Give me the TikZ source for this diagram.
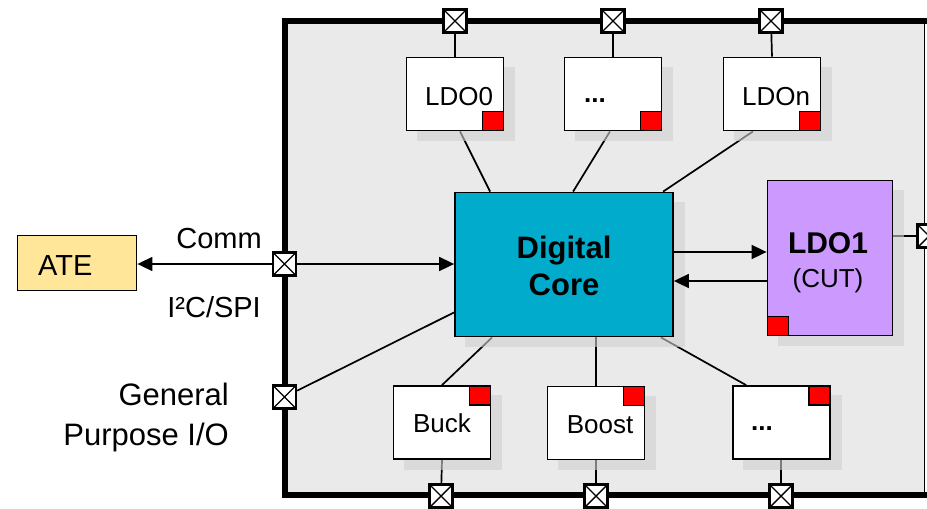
\documentclass[tikz,border=0pt]{standalone}
\usepackage{fontspec}
\setmainfont{Liberation Sans}
\usetikzlibrary{arrows.meta}

\definecolor{chipbg}{HTML}{EAEAEA}
\definecolor{corefill}{HTML}{00ABCB}
\definecolor{cutfill}{HTML}{CC99FF}
\definecolor{atefill}{HTML}{FFE699}
\definecolor{shade}{HTML}{D0D0D0}

\pgfdeclarelayer{chiplayer}
\pgfdeclarelayer{wirelayer}
\pgfdeclarelayer{shadelayer}
\pgfsetlayers{chiplayer,wirelayer,shadelayer,main}

\tikzset{
  fsz/.style={font=\fontsize{#1}{#1}\selectfont},
  bfsz/.style={font=\fontsize{#1}{#1}\selectfont\bfseries},
  txt/.style={inner sep=0pt, anchor=base},
  pad/.style={draw, line width=2.4pt, fill=white, minimum size=23pt, inner sep=0pt,
    path picture={\draw[line width=1.4pt]
      (path picture bounding box.south west) -- (path picture bounding box.north east)
      (path picture bounding box.north west) -- (path picture bounding box.south east);}},
  block/.style={draw, line width=1.8pt, fill=white, minimum width=97pt, minimum height=73pt, inner sep=0pt},
  flag/.style={draw, line width=1.5pt, fill=red, minimum width=21pt, minimum height=19pt, inner sep=0pt},
  wire/.style={line width=1.7pt},
  arr/.style={wire, -{Triangle[length=15pt,width=14pt]}},
  shadowbox/.style={fill=shade, fill opacity=0.6},
}

\begin{document}
\begin{tikzpicture}[x=1pt, y=-1pt]
\useasboundingbox (0,0) rectangle (927,509);

% chip outline
\begin{pgfonlayer}{chiplayer}
  \clip (0,0) rectangle (927,509);
  \fill[chipbg] (284,21) rectangle (924,495);
  \draw[line width=1pt] (924,21) -- (924,495);
  \draw[line width=6pt, line join=miter] (940,21) -- (284.5,21) -- (284.5,495) -- (940,495);
\end{pgfonlayer}

% functional blocks
\node[draw, line width=1.8pt, fill=corefill, minimum width=218pt, minimum height=144pt, inner sep=0pt] (core) at (564,264.5) {};
\node[draw, line width=1.8pt, fill=cutfill, minimum width=125pt, minimum height=155pt, inner sep=0pt] (ldo1) at (830,258) {};
\node[draw, line width=1.8pt, fill=atefill, minimum width=119pt, minimum height=55pt, inner sep=0pt] (ate) at (77,263) {};

\node[block] (ldo0)  at (455,94) {};
\node[block] (dots1) at (613,94) {};
\node[block] (ldon)  at (772,94) {};
\node[block] (buck)  at (442,422.5) {};
\node[block] (boost) at (596,423) {};
\node[block] (dots2) at (781.5,422.5) {};

% trim flags
\node[flag, anchor=south east] (f0) at (ldo0.south east) {};
\node[flag, anchor=south east] (f1) at (dots1.south east) {};
\node[flag, anchor=south east] (f2) at (ldon.south east) {};
\node[flag, anchor=north east] (f3) at (buck.north east) {};
\node[flag, anchor=north east] (f4) at (boost.north east) {};
\node[flag, anchor=north east] (f5) at (dots2.north east) {};
\node[flag, anchor=south west] (f6) at (ldo1.south west) {};

% pads
\node[pad] (pt1) at (455,21) {};
\node[pad] (pt2) at (613,21) {};
\node[pad] (pt3) at (771,21) {};
\node[pad] (pl1) at (284.5,264) {};
\node[pad] (pl2) at (284.5,397) {};
\node[pad] (pb1) at (441,496) {};
\node[pad] (pb2) at (596,496) {};
\node[pad] (pb3) at (781,496) {};
\node[pad] (pr)  at (929,236) {};

% labels
\node[txt, anchor=base west, fsz=29] (atetxt) at (38,275) {ATE};
\node[txt, anchor=base east, fsz=29] (commtxt) at (262,248) {Comm};
\node[txt, anchor=base east, fsz=29] (bustxt) at (261,317) {I²C/SPI};
\node[txt, anchor=base east, fsz=31] (gp1) at (229,405) {General};
\node[txt, anchor=base east, fsz=31] (gp2) at (229,445) {Purpose I/O};
\node[txt, bfsz=31] (dig1) at (564,258) {Digital};
\node[txt, bfsz=31] (dig2) at (564,295) {Core};
\node[txt, bfsz=30] (cut1) at (828,253) {LDO1};
\node[txt, fsz=26] (cut2) at (828,287) {(CUT)};
\node[txt, fsz=26] (t0) at (459,105) {LDO0};
\node[txt, bfsz=26] (t1) at (595,102) {...};
\node[txt, fsz=26] (t2) at (776,105) {LDOn};
\node[txt, fsz=26] (t3) at (442,432) {Buck};
\node[txt, fsz=26] (t4) at (600,433) {Boost};
\node[txt, bfsz=26] (t5) at (762,430) {...};

% connections running beneath the drop shadows
\begin{pgfonlayer}{wirelayer}
  \draw[wire] (pt1) -- (ldo0.north);
  \draw[wire] (pt2) -- (dots1.north);
  \draw[wire] (pt3) -- (ldon.north);
  \draw[wire] (buck.south) -- (pb1);
  \draw[wire] (boost.south) -- (pb2);
  \draw[wire] (dots2.south -| pb3) -- (pb3);
  \draw[wire] ([xshift=5pt]ldo0.south) -- ([xshift=36pt]core.north west);
  \draw[wire] ([xshift=-3pt]dots1.south) -- ([xshift=119pt]core.north west);
  \draw[wire] ([xshift=-19pt]ldon.south) -- ([xshift=209pt]core.north west);
  \draw[wire] ([xshift=38pt]core.south west) -- (buck.north);
  \draw[wire] (boost.north |- core.south) -- (boost.north);
  \draw[wire] ([xshift=-13pt]core.south east) -- ([xshift=14pt]dots2.north west);
  \draw[wire] (pl2) -- ([yshift=25pt]core.south west);
  \draw[arr] (pl1) -- (ate.east |- pl1);
  \draw[arr] (pl1) -- (core.west |- pl1);
  \draw[wire] (pr.west -| ldo1.east) -- (pr.west);
\end{pgfonlayer}

% core <-> LDO1 handshake
\draw[arr] ([yshift=12.5pt]core.east) -- ([yshift=12.5pt]core.east -| ldo1.west);
\draw[arr] ([yshift=-16.5pt]core.east -| ldo1.west) -- ([yshift=-16.5pt]core.east);

% drop shadows
\begin{pgfonlayer}{shadelayer}
  \foreach \b in {ldo0,dots1,ldon,buck,boost,dots2,core,ldo1}
    \fill[shadowbox] ([shift={(11pt,-10pt)}]\b.south west) rectangle ([shift={(11pt,-10pt)}]\b.north east);
\end{pgfonlayer}
\end{tikzpicture}
\end{document}
